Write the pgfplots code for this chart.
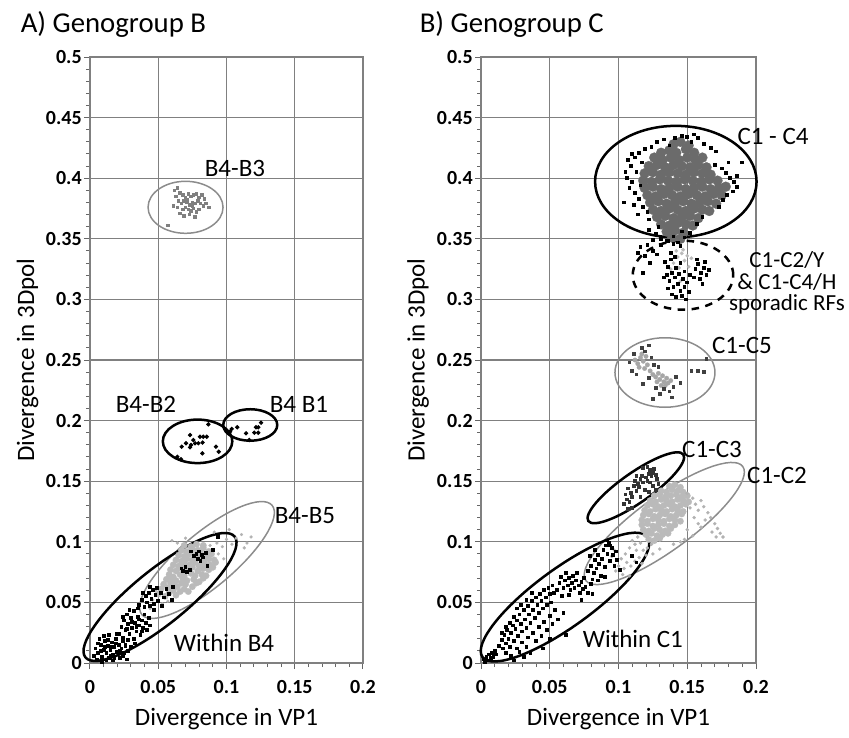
\documentclass[border=0pt]{standalone}
\usepackage{fontspec}
\setmainfont{Carlito}
\usepackage{pgfplots}
\pgfplotsset{compat=1.18}
\usetikzlibrary{shapes.geometric}

% 1 px of the reference = 0.4pt
\pgfplotsset{
  panel/.style={
    scale only axis, width=109.2pt, height=242.4pt,
    xmin=0, xmax=0.2, ymin=0, ymax=0.5,
    xtick={0,0.05,0.1,0.15,0.2},
    ytick={0,0.05,0.1,0.15,0.2,0.25,0.3,0.35,0.4,0.45,0.5},
    minor x tick num=4, minor y tick num=4,
    tick pos=left, tick align=outside,
    major tick length=2.4pt, minor tick length=1.6pt,
    tick style={black!60, line width=0.4pt},
    xmajorgrids, ymajorgrids,
    major grid style={draw=black!50, line width=0.5pt},
    axis line style={draw=black!50, line width=0.5pt},
    scaled ticks=false,
    /pgf/number format/fixed, /pgf/number format/precision=2,
    /pgf/number format/assume math mode=true,
    tick label style={font=\fontsize{8}{9}\selectfont\bfseries},
    yticklabel style={xshift=2.6pt},
    xticklabel style={yshift=-1pt},
    label style={font=\fontsize{10}{12}\selectfont},
    xlabel={Divergence in VP1}, ylabel={Divergence in 3Dpol},
    xlabel style={at={(axis description cs:0.5,-0.1023)}, anchor=base},
    ylabel style={at={(axis description cs:-0.205,0.5)}, anchor=base},
    clip=false,
  },
  blk/.style={only marks, mark=square*, mark size=0.55pt, color=black, mark options={fill=black, draw=black}},
  cloud/.style 2 args={only marks, mark=*, mark size=#1, color=#2, mark options={fill=#2, draw=#2, line width=0.1pt}},
}
\tikzset{
  ell/.style={draw, ellipse, inner sep=0pt, outer sep=0pt, fill=none},
  blkell/.style={ell, black, line width=1pt},
  grell/.style={ell, black!45, line width=0.6pt},
  lab/.style={anchor=base, font=\fontsize{10}{12}\selectfont},
}

\begin{document}
\begin{tikzpicture}
%------------------------------------------------ A) Genogroup B
\begin{axis}[panel, name=A, at={(0,0)}, anchor=south west]
% B4-B5 (light grey)
\addplot[cloud={1.3pt}{black!27}] coordinates {
(0.050,0.057)(0.055,0.055)(0.058,0.058)(0.063,0.056)(0.066,0.059)
(0.052,0.061)(0.057,0.062)(0.061,0.060)(0.064,0.063)(0.069,0.061)(0.072,0.059)
(0.054,0.065)(0.059,0.066)(0.062,0.064)(0.067,0.066)(0.070,0.065)(0.075,0.063)(0.078,0.066)
(0.056,0.069)(0.060,0.070)(0.063,0.068)(0.068,0.070)(0.071,0.068)(0.076,0.069)(0.080,0.067)(0.083,0.070)
(0.058,0.073)(0.061,0.071)(0.066,0.073)(0.069,0.072)(0.074,0.074)(0.077,0.072)(0.082,0.073)(0.085,0.072)
(0.059,0.077)(0.063,0.076)(0.067,0.078)(0.071,0.077)(0.075,0.079)(0.079,0.076)(0.083,0.078)(0.087,0.077)(0.090,0.079)
(0.061,0.081)(0.065,0.080)(0.069,0.082)(0.073,0.081)(0.077,0.083)(0.080,0.080)(0.084,0.082)(0.088,0.081)(0.092,0.083)
(0.063,0.085)(0.067,0.084)(0.071,0.086)(0.075,0.085)(0.079,0.087)(0.083,0.084)(0.087,0.086)(0.091,0.085)
(0.065,0.089)(0.069,0.088)(0.073,0.090)(0.077,0.089)(0.081,0.091)(0.085,0.088)(0.089,0.090)
(0.067,0.093)(0.071,0.092)(0.075,0.094)(0.079,0.093)(0.083,0.095)(0.087,0.092)
(0.069,0.097)(0.074,0.096)(0.078,0.098)(0.083,0.097)
};
\addplot[cloud={0.6pt}{black!30}] coordinates {
(0.046,0.052)(0.048,0.060)(0.053,0.049)(0.060,0.101)(0.064,0.099)(0.070,0.103)(0.088,0.097)
(0.093,0.099)(0.097,0.096)(0.100,0.102)(0.104,0.098)(0.107,0.103)(0.111,0.106)(0.115,0.099)
(0.118,0.104)(0.094,0.090)(0.098,0.086)(0.044,0.045)(0.057,0.051)(0.091,0.108)(0.102,0.110)(0.113,0.095)
};
% Within B4 (black)
\addplot[blk] coordinates {
(0.004,0.012)(0.006,0.008)(0.008,0.015)(0.009,0.005)(0.010,0.011)(0.011,0.018)(0.012,0.008)(0.013,0.014)
(0.014,0.004)(0.015,0.011)(0.016,0.017)(0.017,0.007)(0.018,0.013)(0.019,0.020)(0.020,0.009)(0.021,0.015)
(0.022,0.004)(0.023,0.012)(0.024,0.018)(0.025,0.008)(0.026,0.014)(0.027,0.003)(0.007,0.020)(0.010,0.022)
(0.014,0.023)(0.005,0.003)(0.003,0.006)(0.012,0.002)(0.017,0.002)(0.020,0.024)(0.015,0.006)(0.011,0.013)
(0.008,0.010)(0.019,0.016)(0.022,0.010)(0.013,0.019)(0.006,0.016)(0.016,0.013)(0.024,0.006)(0.028,0.010)
(0.009,0.001)(0.018,0.004)
(0.021,0.024)(0.023,0.030)(0.024,0.021)(0.025,0.035)(0.026,0.027)(0.027,0.040)(0.028,0.032)(0.029,0.024)
(0.030,0.037)(0.031,0.029)(0.032,0.043)(0.033,0.033)(0.034,0.026)(0.035,0.038)(0.036,0.031)(0.037,0.023)
(0.038,0.035)(0.039,0.029)(0.040,0.040)(0.041,0.033)(0.042,0.027)(0.043,0.037)(0.044,0.031)(0.028,0.019)
(0.032,0.020)(0.035,0.045)(0.029,0.044)(0.026,0.015)(0.030,0.013)(0.033,0.016)(0.031,0.034)(0.034,0.030)
(0.027,0.028)(0.036,0.036)(0.038,0.026)(0.024,0.038)
(0.036,0.048)(0.038,0.052)(0.040,0.046)(0.041,0.055)(0.042,0.050)(0.043,0.058)(0.044,0.047)(0.045,0.053)
(0.046,0.060)(0.047,0.049)(0.048,0.056)(0.049,0.062)(0.050,0.051)(0.052,0.058)(0.054,0.054)(0.056,0.061)
(0.058,0.057)(0.061,0.063)(0.039,0.058)(0.044,0.063)(0.047,0.044)(0.053,0.047)(0.060,0.052)
(0.067,0.078)(0.068,0.076)(0.070,0.079)(0.071,0.075)(0.073,0.077)(0.076,0.088)(0.078,0.090)(0.079,0.086)
(0.080,0.092)(0.082,0.089)(0.083,0.087)(0.085,0.091)(0.081,0.084)(0.086,0.080)(0.090,0.093)(0.094,0.104)(0.074,0.092)
};
% B4-B2 and B4-B1
\addplot[blk, mark=*, mark size=0.65pt] coordinates {
(0.0867,0.1969)(0.0733,0.1881)(0.0806,0.1867)(0.0830,0.1867)(0.0855,0.1867)(0.0757,0.1840)(0.0703,0.1813)
(0.0740,0.1799)(0.0672,0.1785)(0.0794,0.1813)(0.0825,0.1819)(0.0733,0.1780)(0.0823,0.1730)(0.0923,0.1785)
(0.0943,0.1743)(0.0640,0.1702)(0.0667,0.1681)(0.0770,0.1813)
(0.1038,0.1931)(0.1079,0.1945)(0.1143,0.1895)(0.1167,0.1840)(0.1204,0.1900)(0.1233,0.1900)(0.1216,0.1945)
(0.1233,0.1945)(0.1253,0.1983)(0.1026,0.1909)
};
% B4-B3 (grey)
\addplot[only marks, mark=square*, mark size=0.5pt, color=black!50, mark options={fill=black!50, draw=black!50}] coordinates {
(0.062,0.390)(0.064,0.392)(0.066,0.388)(0.063,0.385)(0.068,0.386)(0.070,0.384)(0.072,0.387)(0.074,0.385)
(0.076,0.386)(0.078,0.387)(0.080,0.384)(0.082,0.386)(0.084,0.383)(0.065,0.381)(0.067,0.379)(0.069,0.381)
(0.071,0.380)(0.073,0.378)(0.075,0.380)(0.077,0.379)(0.079,0.381)(0.081,0.379)(0.083,0.377)(0.085,0.379)
(0.087,0.376)(0.061,0.377)(0.064,0.376)(0.068,0.374)(0.070,0.376)(0.072,0.374)(0.074,0.373)(0.076,0.375)
(0.078,0.372)(0.080,0.374)(0.066,0.371)(0.069,0.369)(0.073,0.370)(0.077,0.368)(0.071,0.382)(0.075,0.377)
(0.057,0.361)
};
\node[grell, minimum width=30pt, minimum height=20.8pt] at (axis cs:0.070,0.376) {};
\node[blkell, minimum width=27.8pt, minimum height=17.4pt] at (axis cs:0.0788,0.1829) {};
\node[blkell, minimum width=21.6pt, minimum height=12.6pt] at (axis cs:0.1174,0.1964) {};
\node[grell, minimum width=68pt, minimum height=21.6pt, rotate=40] at (axis cs:0.0857,0.085) {};
\node[blkell, minimum width=76.8pt, minimum height=21.6pt, rotate=39] at (axis cs:0.0513,0.0545) {};
\node[lab] at (axis cs:0.1062,0.4018) {B4-B3};
\node[lab] at (axis cs:0.041,0.2063) {B4-B2};
\node[lab] at (axis cs:0.1531,0.2071) {B4 B1};
\node[lab] at (axis cs:0.1575,0.1155) {B4-B5};
\node[lab] at (axis cs:0.0982,0.0091) {Within B4};
\end{axis}
%------------------------------------------------ B) Genogroup C
\begin{axis}[panel, name=B, at={(156.4pt,0pt)}, anchor=south west, width=110pt]
% C1-C4 core (mid grey)
\addplot[cloud={2pt}{black!58}] coordinates {
(0.140,0.428)(0.145,0.430)(0.151,0.427)
(0.131,0.421)(0.137,0.423)(0.142,0.421)(0.149,0.424)(0.155,0.421)
(0.126,0.417)(0.132,0.415)(0.138,0.417)(0.144,0.415)(0.150,0.417)(0.156,0.415)(0.161,0.417)
(0.122,0.410)(0.128,0.411)(0.134,0.409)(0.140,0.411)(0.146,0.410)(0.152,0.409)(0.158,0.411)(0.164,0.409)
(0.119,0.404)(0.125,0.405)(0.131,0.403)(0.137,0.405)(0.143,0.404)(0.149,0.403)(0.155,0.405)(0.161,0.404)(0.167,0.403)
(0.118,0.398)(0.124,0.397)(0.130,0.399)(0.136,0.398)(0.142,0.397)(0.148,0.399)(0.154,0.398)(0.160,0.397)(0.166,0.399)(0.172,0.398)
(0.119,0.392)(0.125,0.393)(0.131,0.391)(0.137,0.392)(0.143,0.393)(0.149,0.391)(0.155,0.392)(0.161,0.393)(0.167,0.391)(0.173,0.392)(0.178,0.393)
(0.121,0.386)(0.127,0.385)(0.133,0.387)(0.139,0.386)(0.145,0.385)(0.151,0.387)(0.157,0.386)(0.163,0.385)(0.169,0.387)(0.175,0.386)
(0.123,0.380)(0.129,0.381)(0.135,0.379)(0.141,0.380)(0.147,0.381)(0.153,0.379)(0.159,0.380)(0.165,0.381)(0.171,0.379)
(0.125,0.374)(0.131,0.373)(0.137,0.375)(0.143,0.374)(0.149,0.373)(0.155,0.375)(0.161,0.374)(0.166,0.373)
(0.128,0.368)(0.134,0.369)(0.140,0.367)(0.146,0.368)(0.152,0.369)(0.158,0.367)
(0.131,0.362)(0.137,0.361)(0.143,0.363)(0.149,0.362)(0.154,0.361)
(0.135,0.356)(0.141,0.357)(0.147,0.355)
(0.139,0.351)(0.145,0.350)
};
% C1-C4 outer points (black)
\addplot[blk] coordinates {
(0.107,0.415)(0.110,0.420)(0.112,0.417)(0.115,0.421)(0.109,0.410)(0.113,0.405)(0.106,0.400)(0.110,0.397)
(0.108,0.392)(0.112,0.388)(0.115,0.383)(0.111,0.378)(0.118,0.376)(0.121,0.372)(0.105,0.405)(0.117,0.413)
(0.119,0.424)(0.124,0.426)(0.116,0.394)(0.104,0.380)(0.114,0.370)(0.122,0.366)
(0.128,0.430)(0.133,0.432)(0.141,0.433)(0.146,0.435)(0.150,0.434)(0.155,0.436)(0.158,0.433)(0.153,0.430)
(0.162,0.428)(0.167,0.425)(0.171,0.422)(0.137,0.427)
(0.170,0.411)(0.175,0.408)(0.178,0.404)(0.181,0.400)(0.184,0.397)(0.186,0.393)(0.183,0.389)(0.179,0.386)
(0.176,0.382)(0.186,0.402)(0.180,0.413)(0.173,0.376)(0.190,0.413)
(0.122,0.357)(0.127,0.354)(0.131,0.350)(0.136,0.348)(0.143,0.347)(0.148,0.351)(0.152,0.355)(0.157,0.362)
(0.161,0.368)(0.129,0.360)(0.140,0.352)(0.146,0.356)(0.125,0.349)
};
% sporadic RFs: light grey, then black
\addplot[cloud={0.7pt}{black!27}] coordinates {
(0.140,0.330)(0.143,0.335)(0.146,0.338)(0.144,0.326)(0.148,0.332)(0.150,0.336)(0.147,0.341)(0.142,0.340)
(0.151,0.327)(0.145,0.315)(0.138,0.325)(0.153,0.334)
};
\addplot[blk] coordinates {
(0.116,0.343)(0.121,0.345)(0.125,0.340)(0.119,0.336)(0.128,0.337)(0.131,0.345)(0.135,0.348)(0.140,0.346)
(0.145,0.344)(0.123,0.330)(0.118,0.322)(0.114,0.338)
(0.134,0.331)(0.136,0.327)(0.138,0.333)(0.139,0.322)(0.141,0.318)(0.142,0.326)(0.137,0.315)(0.140,0.310)
(0.143,0.313)(0.145,0.307)(0.144,0.321)(0.147,0.317)(0.146,0.303)(0.148,0.310)(0.150,0.314)(0.149,0.300)
(0.151,0.306)(0.136,0.309)(0.139,0.304)(0.142,0.302)(0.135,0.320)(0.133,0.318)(0.145,0.330)(0.148,0.323)
(0.152,0.320)(0.138,0.338)(0.141,0.335)
(0.156,0.325)(0.158,0.329)(0.160,0.322)(0.162,0.326)(0.164,0.320)(0.159,0.317)(0.163,0.331)(0.166,0.324)
(0.157,0.333)(0.161,0.313)(0.155,0.318)
};
% C1-C5
\addplot[cloud={0.9pt}{black!35}] coordinates {
(0.112,0.250)(0.114,0.247)(0.116,0.252)(0.115,0.244)(0.118,0.249)(0.119,0.243)(0.121,0.246)(0.123,0.241)
(0.125,0.238)(0.127,0.236)(0.129,0.239)(0.130,0.234)(0.132,0.237)(0.133,0.232)(0.135,0.235)(0.134,0.229)
(0.136,0.231)(0.138,0.233)(0.131,0.229)(0.128,0.232)(0.117,0.255)(0.120,0.253)
};
\addplot[blk, color=black!75, mark options={fill=black!75, draw=black!75}] coordinates {
(0.108,0.248)(0.110,0.241)(0.111,0.255)(0.113,0.238)(0.117,0.260)(0.119,0.257)(0.122,0.262)(0.124,0.252)
(0.126,0.246)(0.122,0.235)(0.127,0.227)(0.130,0.222)(0.133,0.226)(0.137,0.224)(0.140,0.228)(0.142,0.236)
(0.145,0.231)(0.139,0.219)(0.129,0.244)(0.118,0.230)(0.153,0.241)(0.158,0.241)(0.162,0.240)(0.164,0.251)
(0.125,0.218)
};
% C1-C2 (light grey)
\addplot[cloud={1.3pt}{black!27}] coordinates {
(0.137,0.146)(0.141,0.147)(0.145,0.145)
(0.131,0.142)(0.135,0.141)(0.139,0.143)(0.143,0.142)(0.147,0.141)
(0.126,0.138)(0.130,0.139)(0.134,0.137)(0.138,0.138)(0.142,0.139)(0.146,0.137)(0.150,0.138)
(0.123,0.134)(0.127,0.133)(0.131,0.135)(0.135,0.134)(0.139,0.133)(0.143,0.135)(0.147,0.134)(0.151,0.133)
(0.121,0.130)(0.125,0.131)(0.129,0.129)(0.133,0.130)(0.137,0.131)(0.141,0.129)(0.145,0.130)(0.149,0.131)
(0.119,0.126)(0.123,0.125)(0.127,0.127)(0.131,0.126)(0.135,0.125)(0.139,0.127)(0.143,0.126)(0.147,0.125)
(0.118,0.122)(0.122,0.123)(0.126,0.121)(0.130,0.122)(0.134,0.123)(0.138,0.121)(0.142,0.122)(0.146,0.123)
(0.117,0.118)(0.121,0.117)(0.125,0.119)(0.129,0.118)(0.133,0.117)(0.137,0.119)(0.141,0.118)(0.145,0.117)
(0.117,0.114)(0.121,0.115)(0.125,0.113)(0.129,0.114)(0.133,0.115)(0.137,0.113)(0.141,0.114)
(0.118,0.110)(0.122,0.109)(0.126,0.111)(0.130,0.110)(0.134,0.109)(0.138,0.111)
(0.120,0.106)(0.124,0.107)(0.128,0.105)(0.132,0.106)(0.136,0.107)
(0.122,0.102)(0.126,0.101)(0.130,0.103)
};
\addplot[cloud={0.65pt}{black!30}] coordinates {
(0.150,0.140)(0.154,0.136)(0.156,0.131)(0.158,0.126)(0.160,0.134)(0.162,0.129)(0.165,0.124)(0.163,0.118)
(0.167,0.120)(0.170,0.115)(0.172,0.111)(0.174,0.107)(0.168,0.108)(0.155,0.120)(0.152,0.128)(0.158,0.115)
(0.150,0.110)(0.154,0.105)(0.160,0.112)(0.148,0.102)(0.176,0.104)(0.171,0.104)(0.145,0.100)(0.140,0.098)
(0.112,0.098)(0.108,0.095)(0.105,0.090)(0.110,0.088)(0.113,0.093)(0.116,0.099)(0.102,0.086)(0.106,0.083)
(0.100,0.080)(0.098,0.076)(0.104,0.078)(0.109,0.080)(0.115,0.087)(0.118,0.093)(0.120,0.089)(0.112,0.084)
(0.117,0.082)(0.121,0.095)(0.124,0.098)(0.103,0.073)(0.125,0.090)(0.130,0.094)(0.108,0.072)(0.097,0.093)
(0.095,0.088)(0.114,0.104)(0.110,0.101)
};
% C1-C3 (dark)
\addplot[blk, color=black!80, mark options={fill=black!80, draw=black!80}] coordinates {
(0.104,0.131)(0.106,0.135)(0.105,0.139)(0.108,0.133)(0.109,0.140)(0.107,0.144)(0.110,0.137)(0.111,0.146)
(0.113,0.142)(0.112,0.150)(0.114,0.148)(0.116,0.152)(0.115,0.145)(0.118,0.149)(0.117,0.154)(0.120,0.153)
(0.121,0.150)(0.122,0.156)(0.124,0.154)(0.123,0.159)(0.125,0.157)(0.127,0.155)(0.126,0.160)(0.118,0.161)
(0.121,0.162)(0.113,0.154)(0.119,0.143)(0.122,0.141)(0.125,0.146)(0.127,0.143)(0.129,0.148)(0.116,0.137)
(0.110,0.128)(0.107,0.127)(0.128,0.152)(0.123,0.149)
};
% Within C1 (black)
\addplot[blk] coordinates {
(0.002,0.003)(0.004,0.005)(0.005,0.002)(0.006,0.007)(0.007,0.004)(0.008,0.008)(0.009,0.005)(0.010,0.010)
(0.003,0.001)(0.011,0.007)
(0.013,0.014)(0.015,0.019)(0.016,0.012)(0.017,0.023)(0.018,0.016)(0.019,0.027)(0.020,0.020)(0.021,0.013)
(0.022,0.025)(0.023,0.031)(0.024,0.018)(0.025,0.028)(0.026,0.035)(0.027,0.022)(0.028,0.040)(0.029,0.032)
(0.030,0.026)(0.031,0.044)(0.032,0.036)(0.033,0.029)(0.034,0.047)(0.035,0.040)(0.036,0.033)(0.037,0.051)
(0.038,0.044)(0.039,0.037)(0.040,0.054)(0.041,0.048)(0.042,0.041)(0.043,0.057)(0.044,0.051)(0.045,0.045)
(0.046,0.060)(0.047,0.054)(0.048,0.048)(0.049,0.062)(0.050,0.057)(0.051,0.050)(0.052,0.064)(0.053,0.058)
(0.026,0.045)(0.024,0.038)(0.021,0.033)(0.029,0.048)(0.033,0.052)(0.037,0.058)(0.018,0.030)(0.015,0.025)
(0.018,0.008)(0.022,0.006)(0.026,0.012)(0.030,0.017)(0.034,0.021)(0.038,0.025)(0.042,0.030)(0.046,0.034)
(0.050,0.039)(0.054,0.044)(0.028,0.009)(0.033,0.013)(0.036,0.008)(0.040,0.018)(0.044,0.022)(0.048,0.027)
(0.052,0.032)(0.056,0.036)(0.060,0.041)(0.031,0.005)(0.024,0.002)(0.062,0.023)(0.050,0.020)(0.045,0.012)
(0.055,0.060)(0.057,0.066)(0.058,0.071)(0.060,0.062)(0.061,0.068)(0.062,0.074)(0.063,0.064)(0.064,0.070)
(0.065,0.060)(0.066,0.066)(0.067,0.072)(0.068,0.062)(0.069,0.068)(0.070,0.074)(0.071,0.064)(0.072,0.058)
(0.073,0.067)(0.074,0.061)(0.075,0.070)(0.076,0.063)(0.078,0.058)(0.080,0.065)(0.059,0.055)(0.064,0.056)
(0.073,0.052)(0.081,0.057)
(0.078,0.076)(0.080,0.080)(0.082,0.074)(0.083,0.085)(0.084,0.078)(0.085,0.089)(0.086,0.082)(0.087,0.072)
(0.088,0.086)(0.089,0.093)(0.090,0.079)(0.091,0.097)(0.092,0.090)(0.093,0.099)(0.094,0.084)(0.095,0.095)
(0.096,0.089)(0.092,0.101)(0.094,0.097)(0.097,0.080)(0.099,0.085)(0.101,0.077)(0.081,0.069)(0.085,0.068)
(0.090,0.071)(0.079,0.088)(0.083,0.093)(0.098,0.092)(0.110,0.088)(0.113,0.083)
};
\node[blkell, minimum width=64.6pt, minimum height=44.6pt] at (axis cs:0.1417,0.3972) {};
\node[ell, black, line width=1pt, dash pattern=on 3pt off 2.6pt, minimum width=40.2pt, minimum height=27.6pt] at (axis cs:0.1469,0.3200) {};
\node[grell, minimum width=40pt, minimum height=27.8pt] at (axis cs:0.1338,0.2397) {};
\node[blkell, minimum width=46.4pt, minimum height=12pt, rotate=35] at (axis cs:0.1126,0.1446) {};
\node[grell, minimum width=77.6pt, minimum height=21.6pt, rotate=36] at (axis cs:0.1333,0.1151) {};
\node[blkell, minimum width=81.6pt, minimum height=23.2pt, rotate=36] at (axis cs:0.0611,0.0544) {};
\node[lab] at (axis cs:0.2124,0.4275) {C1 - C4};
\node[anchor=north, align=center, inner sep=0pt, font=\fontsize{9.2}{8.6}\selectfont]
  at (axis cs:0.2225,0.3398) {C1-C2/Y\\\& C1-C4/H\\sporadic RFs};
\node[lab] at (axis cs:0.1898,0.2554) {C1-C5};
\node[lab] at (axis cs:0.1680,0.1697) {C1-C3};
\node[lab] at (axis cs:0.2153,0.1483) {C1-C2};
\node[lab] at (axis cs:0.1105,0.0132) {Within C1};
\end{axis}
% panel titles
\node[anchor=base west, font=\fontsize{11.5}{13}\selectfont] at ([shift={(-31.2pt,10pt)}]A.north west) {A) Genogroup B};
\node[anchor=base west, font=\fontsize{11.5}{13}\selectfont] at ([shift={(-28pt,10pt)}]B.north west) {B) Genogroup C};
% page frame of the reference (849 x 731 px)
\path (-36pt,-27.2pt) rectangle (303.6pt,265.2pt);
\end{tikzpicture}
\end{document}
